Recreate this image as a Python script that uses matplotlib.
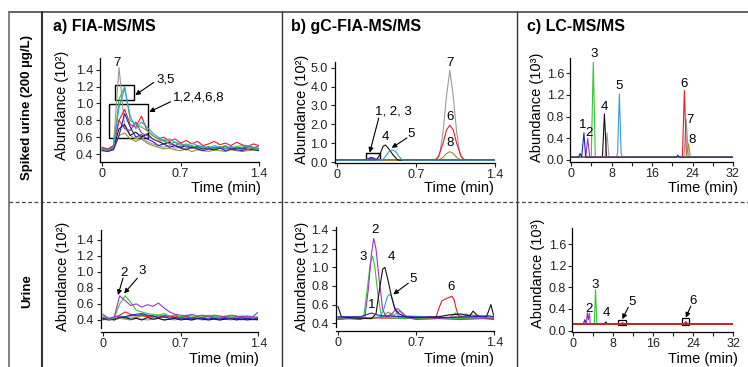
import matplotlib.pyplot as plt
from matplotlib.lines import Line2D
from matplotlib.patches import Rectangle

plt.rcParams['font.family'] = ['Liberation Sans', 'DejaVu Sans']

# ---- data ----
# colours of the 8 analytes (same in every panel)
colors = {1: '#2323b4', 2: '#9b35c0', 3: '#35c435', 4: '#111111',
          5: '#3a9ad9', 6: '#e0202a', 7: '#9a9a9a', 8: '#a08c2a'}

# a) FIA-MS/MS, spiked urine (common time grid)
t_fia = [0, 0.05, 0.1, 0.15, 0.2, 0.25, 0.3, 0.35, 0.4, 0.45, 0.5, 0.55, 0.6, 0.65, 0.7,
         0.75, 0.8, 0.85, 0.9, 0.95, 1.0, 1.05, 1.1, 1.15, 1.2, 1.25, 1.3, 1.35, 1.4]
fia_spk = {
    8: [0.45, 0.46, 0.45, 0.62, 0.65, 0.58, 0.55, 0.58, 0.53, 0.50, 0.48, 0.46, 0.47, 0.45, 0.44,
        0.46, 0.43, 0.45, 0.44, 0.43, 0.45, 0.44, 0.43, 0.45, 0.44, 0.43, 0.44, 0.45, 0.44],
    7: [0.47, 0.45, 0.50, 1.43, 0.72, 0.62, 0.58, 0.60, 0.55, 0.52, 0.50, 0.48, 0.50, 0.47, 0.48,
        0.46, 0.49, 0.47, 0.46, 0.48, 0.47, 0.49, 0.46, 0.48, 0.47, 0.46, 0.48, 0.47, 0.46],
    4: [0.46, 0.44, 0.47, 0.70, 0.75, 0.62, 0.66, 0.60, 0.64, 0.58, 0.55, 0.52, 0.54, 0.50, 0.48,
        0.50, 0.47, 0.49, 0.46, 0.48, 0.45, 0.47, 0.49, 0.46, 0.47, 0.46, 0.48, 0.47, 0.46],
    2: [0.44, 0.46, 0.48, 0.80, 0.70, 0.68, 0.78, 0.65, 0.62, 0.58, 0.55, 0.57, 0.52, 0.50, 0.53,
        0.48, 0.50, 0.47, 0.49, 0.46, 0.48, 0.47, 0.49, 0.46, 0.48, 0.47, 0.49, 0.47, 0.50],
    6: [0.48, 0.46, 0.50, 0.80, 0.93, 0.75, 0.72, 0.85, 0.68, 0.62, 0.58, 0.60, 0.55, 0.58, 0.53,
        0.56, 0.52, 0.55, 0.50, 0.52, 0.55, 0.51, 0.53, 0.50, 0.54, 0.51, 0.49, 0.52, 0.50],
    3: [0.46, 0.44, 0.48, 1.05, 1.20, 0.80, 0.75, 0.72, 0.68, 0.62, 0.58, 0.55, 0.52, 0.54, 0.50,
        0.52, 0.48, 0.50, 0.47, 0.49, 0.46, 0.48, 0.50, 0.47, 0.49, 0.50, 0.48, 0.47, 0.46],
    5: [0.45, 0.45, 0.47, 0.95, 1.18, 0.85, 0.70, 0.78, 0.72, 0.65, 0.60, 0.56, 0.58, 0.54, 0.52,
        0.50, 0.53, 0.50, 0.49, 0.47, 0.50, 0.48, 0.46, 0.49, 0.47, 0.48, 0.50, 0.48, 0.47],
    1: [0.44, 0.43, 0.45, 0.62, 0.88, 0.72, 0.60, 0.63, 0.58, 0.55, 0.50, 0.52, 0.48, 0.50, 0.47,
        0.45, 0.48, 0.46, 0.44, 0.46, 0.45, 0.47, 0.44, 0.46, 0.45, 0.44, 0.46, 0.45, 0.44],
}

# a) FIA-MS/MS, urine
fia_uri = {
    7: [0.40, 0.41, 0.40, 0.42, 0.41, 0.40, 0.42, 0.41, 0.40, 0.41, 0.42, 0.40, 0.41, 0.40, 0.42,
        0.41, 0.40, 0.41, 0.40, 0.41, 0.42, 0.40, 0.41, 0.40, 0.41, 0.40, 0.41, 0.40, 0.41],
    8: [0.41, 0.40, 0.41, 0.43, 0.42, 0.44, 0.43, 0.45, 0.44, 0.43, 0.45, 0.43, 0.44, 0.42, 0.43,
        0.44, 0.42, 0.43, 0.42, 0.41, 0.43, 0.42, 0.41, 0.42, 0.43, 0.41, 0.42, 0.41, 0.42],
    4: [0.41, 0.42, 0.40, 0.44, 0.43, 0.41, 0.42, 0.40, 0.43, 0.41, 0.42, 0.40, 0.41, 0.42, 0.40,
        0.41, 0.40, 0.42, 0.41, 0.40, 0.41, 0.40, 0.41, 0.42, 0.40, 0.41, 0.40, 0.41, 0.40],
    5: [0.43, 0.42, 0.44, 0.45, 0.44, 0.46, 0.45, 0.47, 0.45, 0.44, 0.46, 0.44, 0.45, 0.43, 0.44,
        0.45, 0.43, 0.44, 0.43, 0.42, 0.44, 0.43, 0.42, 0.43, 0.44, 0.42, 0.43, 0.42, 0.43],
    6: [0.42, 0.41, 0.43, 0.46, 0.50, 0.47, 0.45, 0.46, 0.44, 0.45, 0.43, 0.46, 0.44, 0.45, 0.43,
        0.44, 0.42, 0.44, 0.43, 0.45, 0.42, 0.44, 0.43, 0.42, 0.44, 0.43, 0.42, 0.44, 0.43],
    1: [0.42, 0.40, 0.41, 0.43, 0.44, 0.46, 0.47, 0.48, 0.46, 0.45, 0.43, 0.44, 0.42, 0.43, 0.41,
        0.42, 0.41, 0.43, 0.42, 0.41, 0.42, 0.41, 0.42, 0.41, 0.42, 0.41, 0.42, 0.41, 0.42],
    3: [0.45, 0.41, 0.42, 0.60, 0.70, 0.62, 0.52, 0.50, 0.48, 0.47, 0.46, 0.48, 0.45, 0.46, 0.44,
        0.46, 0.45, 0.43, 0.44, 0.46, 0.44, 0.43, 0.45, 0.44, 0.43, 0.45, 0.44, 0.43, 0.44],
    2: [0.47, 0.42, 0.43, 0.70, 0.64, 0.58, 0.60, 0.56, 0.59, 0.57, 0.61, 0.55, 0.50, 0.47, 0.46,
        0.45, 0.47, 0.45, 0.46, 0.44, 0.46, 0.45, 0.44, 0.46, 0.45, 0.44, 0.45, 0.44, 0.50],
}

# b) gC-FIA-MS/MS, spiked urine: (time, abundance x10^3)
gc_spk = {
    3: ([0, 0.26, 0.29, 0.32, 0.35, 1.4], [0.1, 0.1, 0.18, 0.15, 0.1, 0.1]),
    2: ([0, 0.27, 0.30, 0.33, 0.36, 1.4], [0.1, 0.1, 0.25, 0.2, 0.1, 0.1]),
    1: ([0, 0.26, 0.29, 0.32, 0.35, 1.4], [0.1, 0.1, 0.22, 0.2, 0.1, 0.1]),
    7: ([0, 0.88, 0.91, 0.94, 0.97, 1.0, 1.03, 1.06, 1.09, 1.12, 1.4],
        [0.1, 0.1, 0.4, 1.6, 3.5, 4.85, 3.5, 1.6, 0.4, 0.1, 0.1]),
    6: ([0, 0.87, 0.90, 0.94, 0.97, 1.0, 1.03, 1.06, 1.10, 1.13, 1.4],
        [0.12, 0.12, 0.3, 1.0, 1.7, 1.95, 1.7, 1.0, 0.3, 0.12, 0.12]),
    8: ([0, 0.90, 0.94, 0.97, 1.0, 1.03, 1.06, 1.10, 1.4],
        [0.1, 0.1, 0.25, 0.45, 0.55, 0.45, 0.25, 0.1, 0.1]),
    4: ([0, 0.35, 0.38, 0.41, 0.43, 0.46, 0.50, 0.54, 1.4],
        [0.1, 0.1, 0.4, 0.85, 0.9, 0.7, 0.35, 0.1, 0.1]),
    5: ([0, 0.40, 0.43, 0.46, 0.49, 0.52, 0.55, 0.58, 1.4],
        [0.1, 0.1, 0.3, 0.55, 0.65, 0.55, 0.3, 0.1, 0.1]),
}

# b) gC-FIA-MS/MS, urine: (time, abundance x10^2)
gc_uri = {
    7: ([0, 0.4, 0.5, 0.55, 0.6, 1.0, 1.15, 1.2, 1.4],
        [0.46, 0.46, 0.49, 0.53, 0.48, 0.46, 0.50, 0.47, 0.46]),
    8: ([0, 0.3, 0.4, 0.45, 0.5, 0.55, 0.8, 1.0, 1.05, 1.1, 1.4],
        [0.45, 0.45, 0.47, 0.52, 0.48, 0.46, 0.45, 0.46, 0.51, 0.47, 0.45]),
    6: ([0, 0.3, 0.6, 0.88, 0.9, 0.93, 0.96, 1.0, 1.02, 1.04, 1.06, 1.08, 1.1, 1.2, 1.3, 1.4],
        [0.45, 0.46, 0.45, 0.47, 0.55, 0.64, 0.66, 0.68, 0.69, 0.65, 0.55, 0.48, 0.47, 0.49, 0.46, 0.45]),
    3: ([0, 0.1, 0.2, 0.23, 0.26, 0.29, 0.31, 0.33, 0.36, 0.39, 0.45, 0.6, 0.9, 1.1, 1.4],
        [0.46, 0.45, 0.46, 0.47, 0.75, 1.05, 1.12, 1.0, 0.68, 0.47, 0.46, 0.45, 0.46, 0.45, 0.46]),
    2: ([0, 0.1, 0.2, 0.24, 0.27, 0.30, 0.32, 0.34, 0.37, 0.40, 0.43, 0.48, 0.53, 0.57, 0.62, 0.7,
         0.9, 1.1, 1.3, 1.4],
        [0.44, 0.45, 0.44, 0.46, 0.75, 1.15, 1.31, 1.2, 0.85, 0.55, 0.47, 0.50, 0.56, 0.52, 0.46,
         0.44, 0.45, 0.44, 0.45, 0.44]),
    5: ([0, 0.3, 0.38, 0.41, 0.44, 0.46, 0.48, 0.5, 0.53, 0.56, 0.7, 1.0, 1.4],
        [0.46, 0.46, 0.47, 0.55, 0.68, 0.71, 0.69, 0.6, 0.5, 0.46, 0.47, 0.46, 0.47]),
    4: ([0, 0.03, 0.1, 0.3, 0.34, 0.37, 0.40, 0.42, 0.45, 0.48, 0.51, 0.55, 0.6, 0.7, 0.9, 1.0,
         1.1, 1.18, 1.21, 1.25, 1.33, 1.37, 1.39, 1.4],
        [0.58, 0.47, 0.46, 0.45, 0.5, 0.75, 0.98, 1.0, 0.85, 0.68, 0.55, 0.50, 0.47, 0.46, 0.47,
         0.49, 0.50, 0.48, 0.53, 0.48, 0.47, 0.60, 0.50, 0.48]),
    1: ([0, 0.2, 0.25, 0.3, 0.35, 0.4, 0.6, 0.9, 1.2, 1.35, 1.4],
        [0.47, 0.47, 0.49, 0.51, 0.49, 0.48, 0.47, 0.46, 0.47, 0.48, 0.47]),
}

# c) LC-MS/MS, spiked urine: (time min, abundance x10^3)
lc_spk = {
    2: ([0, 2.9, 3.3, 3.7, 32], [0.05, 0.05, 0.40, 0.05, 0.05]),
    3: ([0, 4.0, 4.4, 4.8, 32], [0.05, 0.05, 1.80, 0.05, 0.05]),
    7: ([0, 6.7, 7.1, 7.5, 22.3, 22.75, 23.2, 32], [0.05, 0.05, 0.50, 0.05, 0.05, 0.75, 0.05, 0.05]),
    4: ([0, 6.2, 6.6, 7.0, 32], [0.05, 0.05, 0.85, 0.05, 0.05]),
    5: ([0, 8.9, 9.2, 9.55, 9.9, 10.2, 32], [0.05, 0.05, 0.12, 1.22, 0.12, 0.05, 0.05]),
    6: ([0, 22.0, 22.4, 22.8, 32], [0.05, 0.05, 1.28, 0.05, 0.05]),
    8: ([0, 22.8, 23.2, 23.6, 32], [0.05, 0.05, 0.30, 0.05, 0.05]),
    1: ([0.1, 1.5, 1.8, 2.1, 2.55, 2.9, 20.8, 21.1, 21.4, 32],
        [0.05, 0.05, 0.12, 0.05, 0.50, 0.05, 0.05, 0.09, 0.05, 0.05]),
}

# c) LC-MS/MS, urine
lc_uri = {
    1: ([0, 2.0, 2.3, 2.6, 32], [0.12, 0.12, 0.20, 0.12, 0.12]),
    2: ([0, 2.6, 2.8, 3.0, 3.2, 3.4, 32], [0.12, 0.12, 0.33, 0.20, 0.32, 0.12, 0.12]),
    3: ([0, 4.2, 4.45, 4.7, 32], [0.12, 0.12, 0.76, 0.12, 0.12]),
    4: ([0, 6.2, 6.5, 6.8, 32], [0.12, 0.12, 0.16, 0.12, 0.12]),
    6: ([0, 9.5, 9.8, 10.1, 22.2, 22.5, 22.8, 32], [0.12, 0.12, 0.14, 0.12, 0.12, 0.16, 0.12, 0.12]),
}

W, H = 748, 367
fig = plt.figure(figsize=(W / 100, H / 100), dpi=100)


def box(l, t, r, b):
    # pixel box -> figure fraction
    return [l / W, 1 - b / H, (r - l) / W, (b - t) / H]


def ftext(x, y, s, **kw):
    fig.text(x / W, 1 - y / H, s, **kw)


def fline(xs, ys, **kw):
    fig.add_artist(Line2D([x / W for x in xs], [1 - y / H for y in ys],
                          transform=fig.transFigure, **kw))


def make_ax(rect, xlim, ylim, yticks, ylabels, xticks, xlabels, offset=0, minor=None, ypad=2):
    ax = fig.add_axes(box(*rect))
    ax.set_xlim(*xlim)
    ax.set_ylim(*ylim)
    for s in ['top', 'right']:
        ax.spines[s].set_visible(False)
    for s in ['left', 'bottom']:
        ax.spines[s].set_linewidth(0.9)
    if offset:
        ax.spines['bottom'].set_position(('outward', offset))
    ax.set_yticks(yticks)
    ax.set_yticklabels(ylabels)
    ax.set_xticks(xticks)
    ax.set_xticklabels(xlabels)
    if minor:
        ax.set_xticks(minor, minor=True)
    ax.tick_params(axis='both', which='both', direction='out', length=3, width=0.8,
                   labelsize=9, colors='#222222')
    ax.tick_params(axis='y', pad=ypad)
    ax.tick_params(axis='x', pad=1.5)
    ax.patch.set_alpha(0)
    return ax


def arrow(ax, tip, tail):
    ax.annotate('', xy=tip, xytext=tail,
                arrowprops=dict(arrowstyle='-|>', lw=0.8, color='k', mutation_scale=7,
                                shrinkA=0, shrinkB=0))


def num(ax, x, y, s):
    ax.text(x, y, s, fontsize=9.5, ha='center', va='center', clip_on=False)


lw = 0.8
yt_a = [0.4, 0.6, 0.8, 1.0, 1.2, 1.4]
yl_a = ['0.4', '0.6', '0.8', '1.0', '1.2', '1.4']
xt_a = [0, 0.7, 1.4]
xl_a = ['0', '0.7', '1.4']

# a) top
ax = make_ax((100, 58, 259, 161.6), (-0.02, 1.4), (0.31, 1.54), yt_a, yl_a, xt_a, xl_a)
for k, v in fia_spk.items():
    ax.plot(t_fia, v, color=colors[k], lw=lw)
ax.add_patch(Rectangle((0.116, 1.04), 0.17, 0.18, fill=False, lw=1, ec='k'))
ax.add_patch(Rectangle((0.062, 0.59), 0.35, 0.40, fill=False, lw=1, ec='k'))
num(ax, 0.13, 1.48, '7')
num(ax, 0.57, 1.29, '3,5')
arrow(ax, (0.295, 1.10), (0.46, 1.25))
num(ax, 0.86, 1.07, '1,2,4,6,8')
arrow(ax, (0.42, 0.90), (0.61, 1.02))

# a) bottom
ax = make_ax((100.8, 230, 258.3, 328), (-0.02, 1.4), (0.30, 1.52), yt_a, yl_a, xt_a, xl_a, offset=3)
for k, v in fia_uri.items():
    ax.plot(t_fia, v, color=colors[k], lw=lw)
num(ax, 0.19, 0.99, '2')
arrow(ax, (0.135, 0.71), (0.18, 0.92))
num(ax, 0.35, 1.01, '3')
arrow(ax, (0.19, 0.73), (0.31, 0.92))

# b) top
ax = make_ax((334.7, 62, 495, 163), (-0.02, 1.4), (-0.05, 5.3),
             [0, 1, 2, 3, 4, 5], ['0.0', '1.0', '2.0', '3.0', '4.0', '5.0'], xt_a, xl_a)
for k, (tt, vv) in gc_spk.items():
    ax.plot(tt, vv, color=colors[k], lw=lw)
ax.add_patch(Rectangle((0.257, 0.16), 0.123, 0.30, fill=False, lw=1, ec='k'))
num(ax, 0.50, 2.68, '1, 2, 3')
arrow(ax, (0.29, 0.50), (0.37, 2.33))
num(ax, 0.425, 1.35, '4')
num(ax, 0.66, 1.49, '5')
arrow(ax, (0.485, 0.75), (0.62, 1.28))
num(ax, 1.0, 5.27, '7')
num(ax, 1.0, 2.41, '6')
num(ax, 1.0, 1.0, '8')

# b) bottom
ax = make_ax((335.8, 227.2, 494.3, 327), (-0.02, 1.4), (0.36, 1.43), yt_a, yl_a, xt_a, xl_a, offset=3)
for k, (tt, vv) in gc_uri.items():
    ax.plot(tt, vv, color=colors[k], lw=lw)
num(ax, 0.33, 1.40, '2')
num(ax, 0.225, 1.11, '3')
num(ax, 0.48, 1.11, '4')
num(ax, 0.675, 0.875, '5')
arrow(ax, (0.495, 0.71), (0.63, 0.83))
num(ax, 1.01, 0.785, '6')
num(ax, 0.30, 0.60, '1')

yt_c = [0, 0.4, 0.8, 1.2, 1.6]
yl_c = ['0.0', '0.4', '0.8', '1.2', '1.6']
xt_c = [0, 8, 16, 24, 32]
xl_c = ['0', '8', '16', '24', '32']

# c) top
ax = make_ax((569.5, 58, 733, 161.6), (-0.3, 32), (-0.03, 1.88), yt_c, yl_c, xt_c, xl_c,
             minor=[4, 12, 20, 28], ypad=1)
for k, (tt, vv) in lc_spk.items():
    ax.plot(tt, vv, color=colors[k], lw=lw)
num(ax, 2.4, 0.65, '1')
num(ax, 3.5, 0.50, '2')
num(ax, 4.6, 1.95, '3')
num(ax, 6.5, 0.98, '4')
num(ax, 9.5, 1.37, '5')
num(ax, 22.4, 1.40, '6')
num(ax, 23.6, 0.74, '7')
num(ax, 24.0, 0.36, '8')

# c) bottom
ax = make_ax((571.8, 227.9, 733.3, 331.6), (-0.3, 32), (-0.02, 1.9), yt_c, yl_c, xt_c, xl_c,
             minor=[4, 12, 20, 28], ypad=1)
for k, (tt, vv) in lc_uri.items():
    ax.plot(tt, vv, color=colors[k], lw=lw if k != 6 else 1.2)
ax.add_patch(Rectangle((8.9, 0.095), 1.6, 0.105, fill=False, lw=0.9, ec='k'))
ax.add_patch(Rectangle((21.7, 0.095), 1.45, 0.145, fill=False, lw=0.9, ec='k'))
num(ax, 3.1, 0.40, '2')
num(ax, 4.45, 0.84, '3')
num(ax, 6.6, 0.33, '4')
num(ax, 11.7, 0.53, '5')
arrow(ax, (9.8, 0.21), (11.0, 0.43))
num(ax, 24.0, 0.55, '6')
arrow(ax, (22.5, 0.24), (23.5, 0.45))

# axis labels
for x, y in [(62, 105), (302, 109), (63, 276), (302, 276)]:
    ftext(x, y, 'Abundance (10²)', rotation=90, fontsize=10.5, ha='center', va='center')
for x, y in [(537, 107), (538, 273)]:
    ftext(x, y, 'Abundance (10³)', rotation=90, fontsize=10.5, ha='center', va='center')
for x, y in [(261, 188), (494, 188), (738, 188), (259, 359), (494, 359), (738, 359)]:
    ftext(x, y, 'Time (min)', fontsize=10.5, ha='right', va='center')

# panel titles and row labels
ftext(53, 27, 'a) FIA-MS/MS', fontsize=11.5, fontweight='bold', va='center')
ftext(291, 27, 'b) gC-FIA-MS/MS', fontsize=11.5, fontweight='bold', va='center')
ftext(527, 27, 'c) LC-MS/MS', fontsize=11.5, fontweight='bold', va='center')
ftext(27, 107, 'Spiked urine (200 µg/L)', rotation=90, fontsize=9.5, fontweight='bold',
      ha='center', va='center')
ftext(27, 291, 'Urine', rotation=90, fontsize=9.5, fontweight='bold', ha='center', va='center')

# frame
fline([9, 748], [12, 12], color='#555555', lw=1.3)
fline([9, 9], [12, 367], color='#777777', lw=1.3)
fline([42, 42], [12, 367], color='#333333', lw=1.5)
fline([282, 282], [12, 367], color='#333333', lw=1.0)
fline([517, 517], [12, 367], color='#333333', lw=1.0)
fline([9, 748], [202, 202], color='#444444', lw=0.9, ls=(0, (3, 2)))

fig.savefig('out.png', dpi=100)
